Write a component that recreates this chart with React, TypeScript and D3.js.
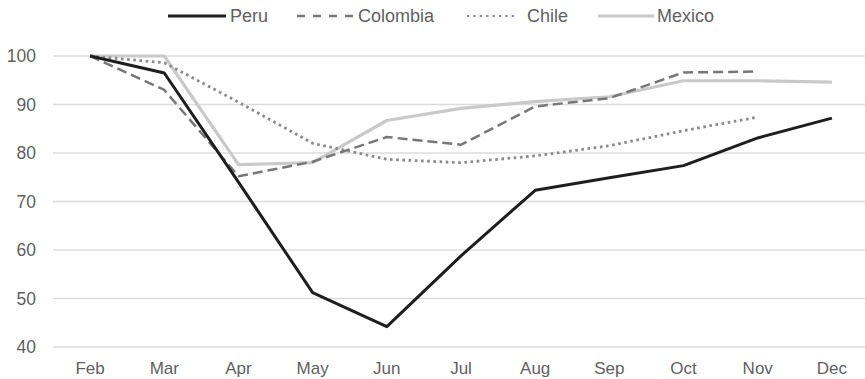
import React from "react";
import * as d3 from "d3";

const months = ["Feb", "Mar", "Apr", "May", "Jun", "Jul", "Aug", "Sep", "Oct", "Nov", "Dec"];
const yTicks = [40, 50, 60, 70, 80, 90, 100];

const peru = [100, 96.5, 74, 51.2, 44.2, 58.8, 72.3, 74.9, 77.4, 83.1, 87.2];
const colombia = [100, 93, 75.2, 78.2, 83.3, 81.7, 89.6, 91.3, 96.6, 96.8, null];
const chile = [100, 98.6, 90.5, 82, 78.7, 78, 79.4, 81.5, 84.6, 87.4, null];
const mexico = [100, 100, 77.6, 78, 86.7, 89.2, 90.6, 91.6, 94.9, 94.9, 94.6];

type Series = { name: string; values: (number | null)[]; color: string; width: number; dash?: string; legendDash?: string };

const seriesList: Series[] = [
  { name: "Peru", values: peru, color: "#1e1e1e", width: 3 },
  { name: "Colombia", values: colombia, color: "#777777", width: 2.5, dash: "10,5", legendDash: "8,8" },
  { name: "Chile", values: chile, color: "#8a8a8a", width: 2.8, dash: "2.6,3.6", legendDash: "2.2,4.2" },
  { name: "Mexico", values: mexico, color: "#c9c9c9", width: 3.2 },
];

const W = 865;
const H = 379;
const FONT = "'Liberation Sans', Arial, sans-serif";
const TEXT = "#5f5f5f";

export default function App() {
  const x = d3.scalePoint<string>().domain(months).range([53, 869]).padding(0.5);
  const y = d3.scaleLinear().domain([40, 100]).range([347, 56]);

  const line = d3
    .line<number | null>()
    .defined((d) => d !== null)
    .x((_, i) => x(months[i]) as number)
    .y((d) => y(d as number));

  // legend: swatch followed by its label, left to right
  const legendX = [168, 297, 467, 598];
  const legendLen = [58, 58, 51, 56];
  const legendGap = [4, 3, 9, 3];

  return (
    <svg width={W} height={H} style={{ position: "absolute", left: 0, top: 0, background: "#fff" }}>
      {yTicks.map((t) => (
        <g key={t}>
          <line x1={53} x2={865} y1={y(t)} y2={y(t)} stroke="#dcdcdc" strokeWidth={1.5} />
          <text x={36} y={y(t)} dy="0.36em" textAnchor="end" fontFamily={FONT} fontSize={17.5} fill={TEXT}>
            {t}
          </text>
        </g>
      ))}
      {months.map((m) => (
        <text key={m} x={x(m)} y={374} textAnchor="middle" fontFamily={FONT} fontSize={17} fill={TEXT}>
          {m}
        </text>
      ))}
      {[...seriesList].reverse().map((s) => (
        <path
          key={s.name}
          d={line(s.values) || ""}
          fill="none"
          stroke={s.color}
          strokeWidth={s.width}
          strokeDasharray={s.dash}
          strokeLinejoin="round"
        />
      ))}
      {seriesList.map((s, i) => (
        <g key={s.name}>
          <line
            x1={legendX[i]}
            x2={legendX[i] + legendLen[i]}
            y1={16}
            y2={16}
            stroke={s.color}
            strokeWidth={i === 2 ? 2.2 : s.width}
            strokeDasharray={s.legendDash}
          />
          <text
            x={legendX[i] + legendLen[i] + legendGap[i]}
            y={16}
            dy="0.36em"
            fontFamily={FONT}
            fontSize={18}
            fill={TEXT}
          >
            {s.name}
          </text>
        </g>
      ))}
    </svg>
  );
}
